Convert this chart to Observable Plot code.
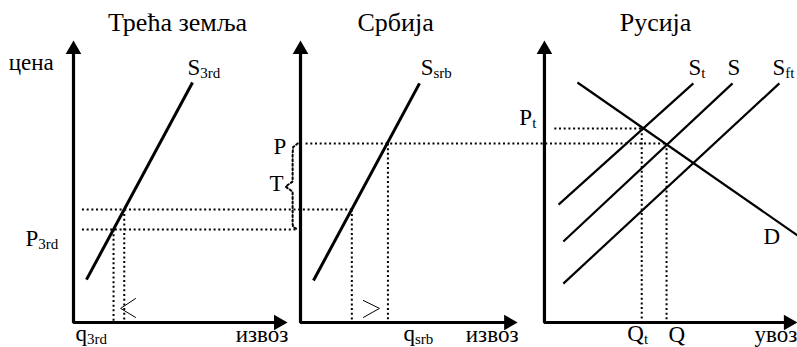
<!DOCTYPE html>
<html><head><meta charset="utf-8">
<script src="https://cdn.jsdelivr.net/npm/d3@7"></script>
<script src="https://cdn.jsdelivr.net/npm/@observablehq/plot@0.6"></script>
<style>body{margin:0;background:#fff}</style>
</head><body><div id="chart"></div>
<script>
// ---- data (price units on y, quantity units on each panel's x axis) ----
const panelTitles = ["Трећа земља", "Србија", "Русија"];
const panelOrigin = [0, 8.05, 16.7];          // where each panel's quantity axis starts
const quantityAxisEnd = [7.59, 7.70, 8.97];    // length of each quantity axis
const priceAxisTop = [10, 10, 10];

// straight curves: supply / demand
const curveNames  = ["S3rd", "Ssrb", "D", "St", "S", "Sft"];
const curvePanel  = [0, 1, 2, 2, 2, 2];
const curveQ0     = [0.46, 0.46, 1.17, 0.50, 0.67, 0.67];
const curveP0     = [1.52, 1.49, 8.51, 4.18, 2.87, 1.38];
const curveQ1     = [4.22, 4.22, 8.97, 5.28, 6.67, 8.33];
const curveP1     = [8.51, 8.48, 3.09, 8.48, 8.48, 8.48];
const curveWidth  = [3, 3, 2.2, 2.2, 2.2, 2.2];

// price and quantity levels
const P3rd = 3.30, Pmid = 4.01, P = 6.35, Pt = 6.88;
const q3rd = 1.42, q3rdB = 1.80, qsrbA = 1.82, qsrb = 3.10, Qt = 3.45, Q = 4.33;

// dotted guides: [panelA, qA, pA, panelB, qB, pB]
const guides = [
  [0, 0.30, Pmid, 1, qsrbA, Pmid],
  [0, 0.30, P3rd, 1, -0.10, P3rd],
  [1, 0.18, P, 2, Q, P],
  [2, 0.35, Pt, 2, Qt, Pt],
  [0, q3rd, P3rd, 0, q3rd, 0],
  [0, q3rdB, Pmid, 0, q3rdB, 0],
  [1, qsrbA, Pmid, 1, qsrbA, 0],
  [1, qsrb, P, 1, qsrb, 0],
  [2, Qt, Pt, 2, Qt, 0],
  [2, Q, P, 2, Q, 0]
];

// tariff brace beside Serbia's price axis (panel 1)
const braceQ = [-0.10, -0.26, -0.28, -0.28, -0.53, -0.28, -0.28, -0.26, -0.10];
const braceP = [P, 6.22, 6.00, 5.00, 4.82, 4.64, 3.50, 3.38, P3rd];

// small direction arrows near the quantity axes
const arrowPanel = [0, 1];
const arrowQ = [[2.20, 1.67, 2.20], [2.23, 2.80, 2.23]];
const arrowP = [[0.85, 0.50, 0.18], [0.78, 0.50, 0.18]];

// labels: text, panel, q, baseline p, anchor ("_" marks a subscript)
const labelText   = ["цена", "S_3rd", "P_3rd", "q_3rd", "извоз", "S_srb", "P", "T", "q_srb", "извоз", "P_t", "S_t", "S", "S_ft", "D", "Q_t", "Q", "увоз"];
const labelPanel  = [0, 0, 0, 0, 0, 1, 1, 1, 1, 1, 2, 2, 2, 2, 2, 2, 2, 2];
const labelQ      = [-2.30, 4.04, -1.70, 0.07, 7.62, 4.26, -0.96, -1.10, 3.65, 7.73, -0.89, 5.11, 6.49, 8.09, 7.77, 2.94, 4.40, 8.97];
const labelP      = [8.94, 8.76, 2.73, -0.67, -0.70, 8.76, 5.99, 4.65, -0.67, -0.70, 6.99, 8.76, 8.76, 8.76, 2.80, -0.67, -0.70, -0.70];
const labelAnchor = ["start","start","start","start","end","start","start","start","start","end","start","start","start","start","start","start","start","end"];
const titleQ = [3.69, 3.37, 3.94];
const titleP = 10.35;

// ---- build tables ----
const X = (panel, q) => panelOrigin[panel] + q;
const axisPts = [];
panelTitles.forEach((_, i) => {
  axisPts.push({g: i, x: X(i, 0), y: priceAxisTop[i] - 0.3});
  axisPts.push({g: i, x: X(i, 0), y: 0});
  axisPts.push({g: i, x: X(i, quantityAxisEnd[i] - 0.3), y: 0});
});
const upHeads = panelTitles.map((_, i) => ({x: X(i, 0), y: priceAxisTop[i]}));
const rightHeads = panelTitles.map((_, i) => ({x: X(i, quantityAxisEnd[i]), y: 0}));
const curves = curveNames.map((n, i) => ({
  name: n, x1: X(curvePanel[i], curveQ0[i]), y1: curveP0[i],
  x2: X(curvePanel[i], curveQ1[i]), y2: curveP1[i], w: curveWidth[i]
}));
const guideSegs = guides.map(([a, qa, pa, b, qb, pb]) => ({x1: X(a, qa), y1: pa, x2: X(b, qb), y2: pb}));
const bracePts = braceQ.map((q, i) => ({x: X(1, q), y: braceP[i]}));
const smallArrows = [];
arrowPanel.forEach((pn, k) => arrowQ[k].forEach((q, j) => smallArrows.push({g: k, x: X(pn, q), y: arrowP[k][j]})));
const labels = labelText.map((t, i) => ({t, x: X(labelPanel[i], labelQ[i]), y: labelP[i], a: labelAnchor[i]}));
const titles = panelTitles.map((t, i) => ({t, x: X(i, titleQ[i]), y: titleP}));

const font = "'Liberation Serif', 'Times New Roman', serif";
const chart = Plot.plot({
  width: 797, height: 347,
  marginLeft: 0, marginRight: 0, marginTop: 40, marginBottom: 25,
  x: {domain: [-73 / 28.2, (797 - 73) / 28.2], axis: null},
  y: {domain: [0, 10], axis: null},
  style: {fontFamily: font, background: "#fff", color: "#000"},
  marks: [
    Plot.link(guideSegs, {x1: "x1", y1: "y1", x2: "x2", y2: "y2", stroke: "#000", strokeWidth: 2, strokeDasharray: "2 2.7"}),
    Plot.line(bracePts, {x: "x", y: "y", stroke: "#000", strokeWidth: 2, strokeDasharray: "2 2.5", curve: "linear"}),
    Plot.line(smallArrows, {x: "x", y: "y", z: "g", stroke: "#000", strokeWidth: 1}),
    Plot.link(curves, {x1: "x1", y1: "y1", x2: "x2", y2: "y2", stroke: "#000", strokeWidth: "w", strokeLinecap: "butt"}),
    Plot.line(axisPts, {x: "x", y: "y", z: "g", stroke: "#000", strokeWidth: 3.2, strokeLinejoin: "miter"}),
    Plot.dot(upHeads, {x: "x", y: "y", symbol: "triangle", r: 5.8, fill: "#000", stroke: null, dy: 9}),
    Plot.dot(rightHeads, {x: "x", y: "y", symbol: "triangle", r: 5.8, fill: "#000", stroke: null, rotate: 90, dx: -9}),
    Plot.text(labels.filter(d => d.a === "start"), {x: "x", y: "y", text: "t", textAnchor: "start", lineAnchor: "bottom", fontSize: 23, fill: "#000"}),
    Plot.text(labels.filter(d => d.a === "end"), {x: "x", y: "y", text: "t", textAnchor: "end", lineAnchor: "bottom", fontSize: 23, fill: "#000"}),
    Plot.text(titles, {x: "x", y: "y", text: "t", textAnchor: "middle", lineAnchor: "bottom", fontSize: 26, fill: "#000"})
  ]
});
// turn "X_sub" labels into main text + subscript tspan
d3.select(chart).selectAll("text").each(function () {
  const s = this.textContent;
  const k = s.indexOf("_");
  if (k < 0) return;
  this.textContent = s.slice(0, k);
  const ts = document.createElementNS("http://www.w3.org/2000/svg", "tspan");
  ts.setAttribute("font-size", "15");
  ts.setAttribute("dy", "3");
  ts.textContent = s.slice(k + 1);
  this.appendChild(ts);
});
document.getElementById("chart").appendChild(chart);
</script>
</body></html>
